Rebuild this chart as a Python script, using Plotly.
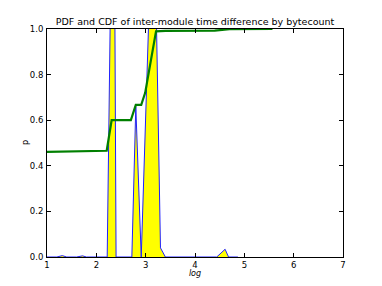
import plotly.graph_objects as go

# PDF (blue line, yellow fill)
pdf_x = [1.0, 1.2, 1.31, 1.4, 1.6, 1.72, 1.8, 2.0, 2.22, 2.35, 2.40, 2.72, 2.80, 2.91,
         3.10, 3.18, 3.30, 3.40, 3.6, 4.0, 4.44, 4.61, 4.68, 4.87]
pdf_y = [0.0, 0.0, 0.006, 0.0, 0.0, 0.005, 0.0, 0.0, 0.0, 2.2, 0.0, 0.0, 0.66, 0.0,
         1.3, 1.5, 0.04, 0.0, 0.0, 0.0, 0.0, 0.034, 0.0, 0.0]

# CDF (green line)
cdf_x = [1.0, 2.21, 2.31, 2.70, 2.80, 2.91, 2.99, 3.21, 3.4, 4.4, 4.7, 5.57]
cdf_y = [0.461, 0.466, 0.60, 0.60, 0.667, 0.667, 0.72, 0.99, 0.992, 0.993, 0.999, 1.0]

x_ticks = [1, 2, 3, 4, 5, 6, 7]
y_ticks = [0.0, 0.2, 0.4, 0.6, 0.8, 1.0]

W, H = 366, 270  # page body adds an 8px margin around the figure

fig = go.Figure()
fig.add_trace(go.Scatter(x=pdf_x, y=pdf_y, mode="lines", fill="tozeroy",
                         fillcolor="#ffff00", line=dict(color="#2020ff", width=1),
                         hoverinfo="skip"))
fig.add_trace(go.Scatter(x=cdf_x, y=cdf_y, mode="lines",
                         line=dict(color="#007f00", width=2.2), hoverinfo="skip"))

axis_common = dict(showline=True, linecolor="black", linewidth=1, mirror="ticks",
                   ticks="inside", ticklen=4, tickcolor="black", showgrid=False,
                   zeroline=False, automargin=False,
                   tickfont=dict(family="DejaVu Sans", size=8.5, color="black"))

fig.update_layout(
    width=W, height=H,
    margin=dict(l=39, r=31, t=21, b=21),
    paper_bgcolor="white", plot_bgcolor="white",
    showlegend=False,
    title=dict(text="PDF and CDF of inter-module time difference by bytecount",
               x=0.5, xanchor="center", xref="paper", y=1 - 14 / H, yanchor="middle",
               font=dict(family="DejaVu Sans", size=9.5, color="black")),
    xaxis=dict(range=[1, 7], tickvals=x_ticks, ticktext=[str(v) for v in x_ticks],
               title=dict(text="<i>log</i>", font=dict(family="DejaVu Sans", size=8, color="black"),
                          standoff=2),
               ticklabelstandoff=0,
               **axis_common),
    yaxis=dict(range=[0, 1], tickvals=y_ticks, ticktext=[f"{v:.1f}" for v in y_ticks],
               ticklabelstandoff=1,
               **axis_common),
    annotations=[dict(text="p", xref="paper", yref="paper", x=0, y=0.5, xshift=-22,
                      xanchor="center", yanchor="middle", textangle=-90, showarrow=False,
                      font=dict(family="DejaVu Sans", size=8, color="black"))],
)

fig.write_html("out.html")
